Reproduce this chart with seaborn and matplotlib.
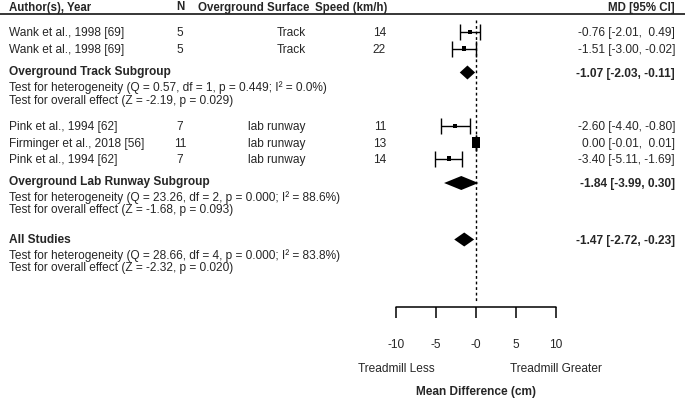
import numpy as np
import pandas as pd
import matplotlib
matplotlib.use("Agg")
import matplotlib.pyplot as plt
import seaborn as sns

# ---------------- data ----------------
authors = ["Wank et al., 1998 [69]", "Wank et al., 1998 [69]",
           "Pink et al., 1994 [62]", "Firminger et al., 2018 [56]", "Pink et al., 1994 [62]"]
n_vals = [5, 5, 7, 11, 7]
surfaces = ["Track", "Track", "lab runway", "lab runway", "lab runway"]
speeds = [14, 22, 11, 13, 14]
md = [-0.76, -1.51, -2.60, 0.00, -3.40]
ci_lo = [-2.01, -3.00, -4.40, -0.01, -5.11]
ci_hi = [0.49, -0.02, -0.80, 0.01, -1.69]
weights = [1.0, 1.0, 1.0, 6.0, 1.0]

sub_names = ["Overground Track Subgroup", "Overground Lab Runway Subgroup", "All Studies"]
sub_md = [-1.07, -1.84, -1.47]
sub_lo = [-2.03, -3.99, -2.72]
sub_hi = [-0.11, 0.30, -0.23]
sub_het = ["Test for heterogeneity (Q = 0.57, df = 1, p = 0.449; I\u00b2 = 0.0%)",
           "Test for heterogeneity (Q = 23.26, df = 2, p = 0.000; I\u00b2 = 88.6%)",
           "Test for heterogeneity (Q = 28.66, df = 4, p = 0.000; I\u00b2 = 83.8%)"]
sub_eff = ["Test for overall effect (Z = -2.19, p = 0.029)",
           "Test for overall effect (Z = -1.68, p = 0.093)",
           "Test for overall effect (Z = -2.32, p = 0.020)"]

ticks = [-10, -5, 0, 5, 10]
tick_labels = ["-10", "-5", "-0", "5", "10"]
headers = ["Author(s), Year", "N", "Overground Surface", "Speed (km/h)", "MD [95% CI]"]

# ---------------- layout (pixel rows) ----------------
study_rows = [32, 48.5, 126, 142.5, 158.5]
sub_rows = [72.5, 183, 239.5]
title_rows = [70.5, 180.5, 238.8]
het_rows = [87, 196.3, 254.5]
eff_rows = [99.3, 208.5, 267]
ZERO_PX, PX_PER_UNIT = 476, 8.0


def X(px):
    return (px - ZERO_PX) / PX_PER_UNIT


sns.set_theme(style="white")
plt.rcParams["font.family"] = ["Liberation Sans", "DejaVu Sans"]
FS = 8.6
HFS = 8.3
BOFF = 4.3  # baseline offset from cap centre (px)

fig = plt.figure(figsize=(6.85, 4.0), dpi=100)
ax = fig.add_axes([0, 0, 1, 1])
ax.set_xlim(X(0), X(685))
ax.set_ylim(400, 0)
ax.axis("off")


def txt(px, row, s, ha="left", bold=False, size=FS, xdata=False):
    ax.text(px if xdata else X(px), row + BOFF, s, ha=ha, va="baseline",
            fontsize=size, fontweight="bold" if bold else "normal")


# header
hx = [(9, "left"), (180, "center"), (198, "left"), (387, "right"), (675, "right")]
for (px, ha), h in zip(hx, headers):
    txt(px, 6.2, h, ha=ha, bold=True, size=HFS)
ax.plot([X(0), X(685)], [14, 14], color="black", lw=1.1)

# reference line
ax.plot([0, 0], [20, 302], color="black", lw=1.0, linestyle=(0, (2, 2)))

# studies
df = pd.DataFrame({"md": md, "row": study_rows, "w": weights})
ax.hlines(study_rows, ci_lo, ci_hi, color="black", lw=1.0)
for lo, hi, r in zip(ci_lo, ci_hi, study_rows):
    ax.vlines([lo, hi], r - 8, r + 8, color="black", lw=1.0)
rect = [(-0.4, -0.5), (0.4, -0.5), (0.4, 0.5), (-0.4, 0.5), (-0.4, -0.5)]
sns.scatterplot(data=df, x="md", y="row", size="w", sizes=(10, 64), marker=rect,
                color="black", edgecolor="black", linewidth=0, legend=False, ax=ax)

for a, n, s, sp, m, lo, hi, r in zip(authors, n_vals, surfaces, speeds, md, ci_lo, ci_hi, study_rows):
    txt(9, r, a)
    txt(180, r, str(n), ha="center")
    txt(306, r, s, ha="right")
    txt(386, r, str(sp), ha="right")
    label = f"{m:.2f} [{lo:.2f}, " + (" " if hi >= 0 else "") + f"{hi:.2f}]"
    txt(675, r, label, ha="right")

# subgroup summaries
for name, m, lo, hi, het, eff, r, tr, hr, er in zip(sub_names, sub_md, sub_lo, sub_hi, sub_het,
                                                    sub_eff, sub_rows, title_rows, het_rows, eff_rows):
    ax.fill([lo, m, hi, m], [r, r - 7, r, r + 7], color="black", lw=0)
    txt(9, tr, name, bold=True)
    txt(9, hr, het)
    txt(9, er, eff)
    txt(675, r, f"{m:.2f} [{lo:.2f}, {hi:.2f}]", ha="right", bold=True)

# x axis
ax.plot([ticks[0], ticks[-1]], [307, 307], color="black", lw=1.1)
ax.vlines(ticks, 307, 318, color="black", lw=1.1)
for t, lab in zip(ticks, tick_labels):
    txt(t, 344, lab, ha="center", xdata=True)
txt(ticks[0], 367.5, "Treadmill Less", ha="center", xdata=True)
txt(ticks[-1], 367.5, "Treadmill Greater", ha="center", xdata=True)
txt(0, 390.5, "Mean Difference (cm)", ha="center", bold=True, xdata=True)

fig.savefig("out.png", dpi=100)
